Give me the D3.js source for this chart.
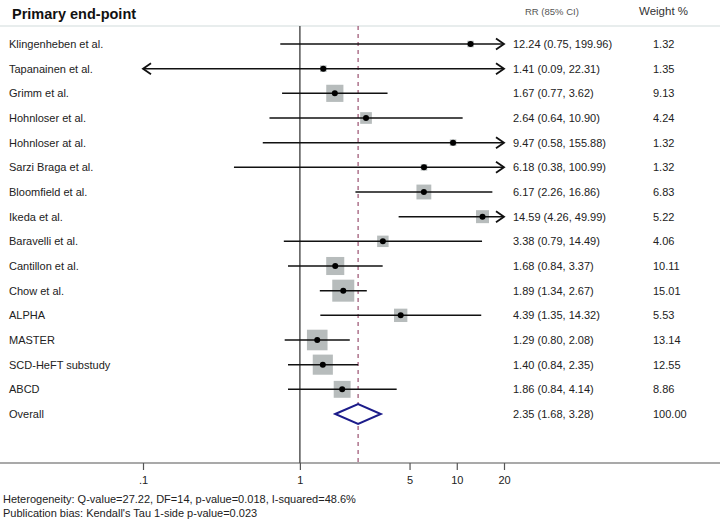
<!DOCTYPE html>
<html><head><meta charset="utf-8">
<script src="https://cdn.jsdelivr.net/npm/d3@7"></script>
<style>body{margin:0;background:#fff;}svg{display:block;font-family:"Liberation Sans",Arial,sans-serif;}</style>
</head><body><svg id="c" width="720" height="521"></svg>
<script>
const studies = ["Klingenheben et al.","Tapanainen et al.","Grimm et al.","Hohnloser et al.","Hohnloser at al.","Sarzi Braga et al.","Bloomfield et al.","Ikeda et al.","Baravelli et al.","Cantillon et al.","Chow et al.","ALPHA","MASTER","SCD-HeFT substudy","ABCD"];
const rr    = [12.24,1.41,1.67,2.64,9.47,6.18,6.17,14.59,3.38,1.68,1.89,4.39,1.29,1.40,1.86];
const lower = [0.75,0.09,0.77,0.64,0.58,0.38,2.26,4.26,0.79,0.84,1.34,1.35,0.80,0.84,0.84];
const upper = [199.96,22.31,3.62,10.90,155.88,100.99,16.86,49.99,14.49,3.37,2.67,14.32,2.08,2.35,4.14];
const weights = [1.32,1.35,9.13,4.24,1.32,1.32,6.83,5.22,4.06,10.11,15.01,5.53,13.14,12.55,8.86];
const overall = {label:"Overall", rr:2.35, lower:1.68, upper:3.28, weight:100.00};
const tickValues = [0.1,1,5,10,20];
const tickLabels = [".1","1","5","10","20"];
const footnotes = ["Heterogeneity: Q-value=27.22, DF=14, p-value=0.018, I-squared=48.6%",
                   "Publication bias: Kendall's Tau 1-side p-value=0.023"];

const svg = d3.select("#c");
const x = d3.scaleLog().domain([0.1,20]).range([143,504]);
const y = d3.scalePoint().domain([...studies, overall.label]).range([44,414]);
const fmt = d3.format(".2f");
const txt = "#222";

// header
svg.append("text").attr("x",12).attr("y",19).attr("font-size",14.5).attr("font-weight","bold").attr("fill","#111").text("Primary end-point");
svg.append("text").attr("x",525).attr("y",15).attr("font-size",9.5).attr("fill","#555").text("RR (85% CI)");
svg.append("text").attr("x",639).attr("y",15).attr("font-size",11.5).attr("fill","#333").text("Weight %");
svg.append("line").attr("x1",0).attr("x2",720).attr("y1",26).attr("y2",26).attr("stroke","#d2dcdc").attr("stroke-width",1.2);

// reference lines
svg.append("line").attr("x1",x(1)).attr("x2",x(1)).attr("y1",26).attr("y2",463).attr("stroke","#555").attr("stroke-width",1.5);
svg.append("line").attr("x1",x(overall.rr)).attr("x2",x(overall.rr)).attr("y1",26).attr("y2",463)
  .attr("stroke","#9a5070").attr("stroke-width",1.2).attr("stroke-dasharray","4,4");

// axis
svg.append("line").attr("x1",0).attr("x2",720).attr("y1",463).attr("y2",463).attr("stroke","#555").attr("stroke-width",1.2);
const ax = svg.append("g").attr("transform","translate(0,463)")
  .call(d3.axisBottom(x).tickValues(tickValues).tickFormat((d,i)=>tickLabels[i]).tickSize(7).tickPadding(6));
ax.select(".domain").remove();
ax.selectAll(".tick line").attr("stroke","#555").attr("stroke-width",1.2);
ax.selectAll(".tick text").attr("font-size",11).attr("fill",txt).attr("font-family","Liberation Sans, Arial, sans-serif");

// rows
const rows = studies.map((s,i)=>({s, rr:rr[i], lo:lower[i], hi:upper[i], w:weights[i]}));
const [dmin,dmax] = x.domain();
const boxK = 5.68;
rows.forEach(d=>{
  const yy = y(d.s);
  const x1 = x(Math.max(d.lo,dmin)), x2 = x(Math.min(d.hi,dmax));
  const side = boxK*Math.sqrt(d.w);
  svg.append("rect").attr("x",x(d.rr)-side/2).attr("y",yy-side/2).attr("width",side).attr("height",side).attr("fill","#b7bcbc");
  svg.append("line").attr("x1",x1).attr("x2",x2).attr("y1",yy).attr("y2",yy).attr("stroke","#111").attr("stroke-width",1.5);
  if (d.hi>dmax) svg.append("path").attr("d",`M${x2-8},${yy-5.5}L${x2},${yy}L${x2-8},${yy+5.5}`).attr("fill","none").attr("stroke","#111").attr("stroke-width",1.8);
  if (d.lo<dmin) svg.append("path").attr("d",`M${x1+8},${yy-5.5}L${x1},${yy}L${x1+8},${yy+5.5}`).attr("fill","none").attr("stroke","#111").attr("stroke-width",1.8);
  svg.append("circle").attr("cx",x(d.rr)).attr("cy",yy).attr("r",3).attr("fill","#000");
  svg.append("text").attr("x",9).attr("y",yy+4).attr("font-size",11).attr("fill",txt).text(d.s);
  svg.append("text").attr("x",513).attr("y",yy+4).attr("font-size",11).attr("fill",txt).text(`${fmt(d.rr)} (${fmt(d.lo)}, ${fmt(d.hi)})`);
  svg.append("text").attr("x",653).attr("y",yy+4).attr("font-size",11).attr("fill",txt).text(fmt(d.w));
});

// overall diamond
const yo = y(overall.label);
svg.append("path").attr("d",`M${x(overall.lower)},${yo}L${x(overall.rr)},${yo-10}L${x(overall.upper)},${yo}L${x(overall.rr)},${yo+10}Z`)
  .attr("fill","#fff").attr("stroke","#1c1c8a").attr("stroke-width",2);
svg.append("text").attr("x",9).attr("y",yo+4).attr("font-size",11).attr("fill",txt).text(overall.label);
svg.append("text").attr("x",513).attr("y",yo+4).attr("font-size",11).attr("fill",txt).text(`${fmt(overall.rr)} (${fmt(overall.lower)}, ${fmt(overall.upper)})`);
svg.append("text").attr("x",653).attr("y",yo+4).attr("font-size",11).attr("fill",txt).text(fmt(overall.weight));

// footnotes
footnotes.forEach((t,i)=>svg.append("text").attr("x",3).attr("y",503+i*14).attr("font-size",11).attr("fill",txt).text(t));
</script></body></html>
